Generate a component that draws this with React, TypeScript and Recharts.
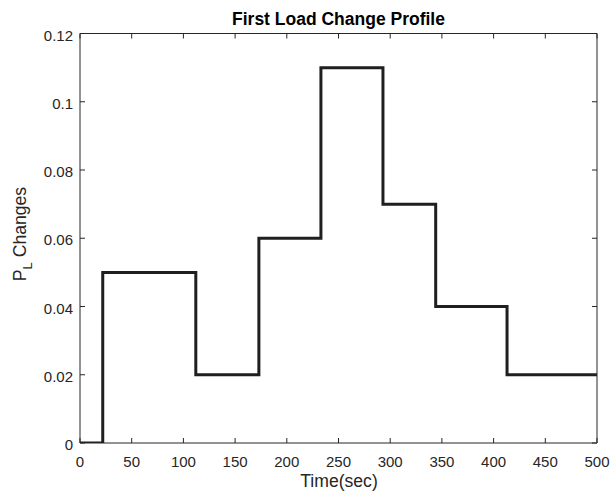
import React from "react";
import { LineChart, Line, XAxis, YAxis } from "recharts";

const times = [0, 22, 112, 173, 233, 293, 344, 413, 500];
const loadChanges = [0, 0.05, 0.02, 0.06, 0.11, 0.07, 0.04, 0.02, 0.02];
const xTicks = [0, 50, 100, 150, 200, 250, 300, 350, 400, 450, 500];
const yTicks = [0, 0.02, 0.04, 0.06, 0.08, 0.1, 0.12];

const data = times.map((t, i) => ({ t, p: loadChanges[i] }));

const AX = "#262626";
const FONT = "'Liberation Sans', Arial, Helvetica, sans-serif";
const TICK_LEN = 5;

const BottomTick = (props: any) => {
  const { x, y, payload } = props;
  return (
    <g>
      <line x1={x} y1={y} x2={x} y2={y - TICK_LEN} stroke={AX} strokeWidth={1} />
      <text x={x} y={y + 24} textAnchor="middle" fill={AX} fontSize={15} fontFamily={FONT}>
        {String(payload.value)}
      </text>
    </g>
  );
};

const TopTick = (props: any) => {
  const { x, y } = props;
  return <line x1={x} y1={y} x2={x} y2={y + TICK_LEN} stroke={AX} strokeWidth={1} />;
};

const LeftTick = (props: any) => {
  const { x, y, payload } = props;
  return (
    <g>
      <line x1={x} y1={y} x2={x + TICK_LEN} y2={y} stroke={AX} strokeWidth={1} />
      <text x={x - 7} y={y + 7} textAnchor="end" fill={AX} fontSize={15} fontFamily={FONT}>
        {String(payload.value)}
      </text>
    </g>
  );
};

const RightTick = (props: any) => {
  const { x, y } = props;
  return <line x1={x} y1={y} x2={x - TICK_LEN} y2={y} stroke={AX} strokeWidth={1} />;
};

export default function App() {
  return (
    <div style={{ position: "absolute", left: 0, top: 0, width: 610, height: 494, background: "#fff" }}>
      <LineChart width={610} height={494} data={data} margin={{ top: 32.5, right: 12, bottom: 0, left: 0 }}>
        <XAxis
          xAxisId="b"
          dataKey="t"
          type="number"
          domain={[0, 500]}
          ticks={xTicks}
          height={51}
          tickSize={0}
          tickMargin={0}
          tick={BottomTick}
          stroke={AX}
          interval={0}
          allowDataOverflow
        />
        <XAxis
          xAxisId="t"
          orientation="top"
          dataKey="t"
          type="number"
          domain={[0, 500]}
          ticks={xTicks}
          height={1}
          tickSize={0}
          tickMargin={0}
          tick={TopTick}
          stroke={AX}
          interval={0}
          allowDataOverflow
        />
        <YAxis
          yAxisId="l"
          type="number"
          domain={[0, 0.12]}
          ticks={yTicks}
          width={80}
          tickSize={0}
          tickMargin={0}
          tick={LeftTick}
          stroke={AX}
          interval={0}
          allowDataOverflow
        />
        <YAxis
          yAxisId="r"
          orientation="right"
          type="number"
          domain={[0, 0.12]}
          ticks={yTicks}
          width={1}
          tickSize={0}
          tickMargin={0}
          tick={RightTick}
          stroke={AX}
          interval={0}
          allowDataOverflow
        />
        <Line
          xAxisId="b"
          yAxisId="l"
          type="stepAfter"
          dataKey="p"
          stroke="#1f1f1f"
          strokeWidth={3}
          dot={false}
          activeDot={false}
          isAnimationActive={false}
        />
      </LineChart>
      <svg
        width={610}
        height={494}
        style={{ position: "absolute", left: 0, top: 0, pointerEvents: "none" }}
      >
        <text x={338.5} y={25} textAnchor="middle" fill="#000" fontSize={17.5} fontWeight="bold" fontFamily={FONT}>
          First Load Change Profile
        </text>
        <text x={339} y={487} textAnchor="middle" fill={AX} fontSize={17.6} fontFamily={FONT}>
          Time(sec)
        </text>
        <text
          transform="translate(26,234) rotate(-90)"
          textAnchor="middle"
          fill={AX}
          fontSize={17.6}
          fontFamily={FONT}
        >
          <tspan>P</tspan>
          <tspan dy={6} fontSize={13}>L</tspan>
          <tspan dy={-6}> Changes</tspan>
        </text>
      </svg>
    </div>
  );
}
